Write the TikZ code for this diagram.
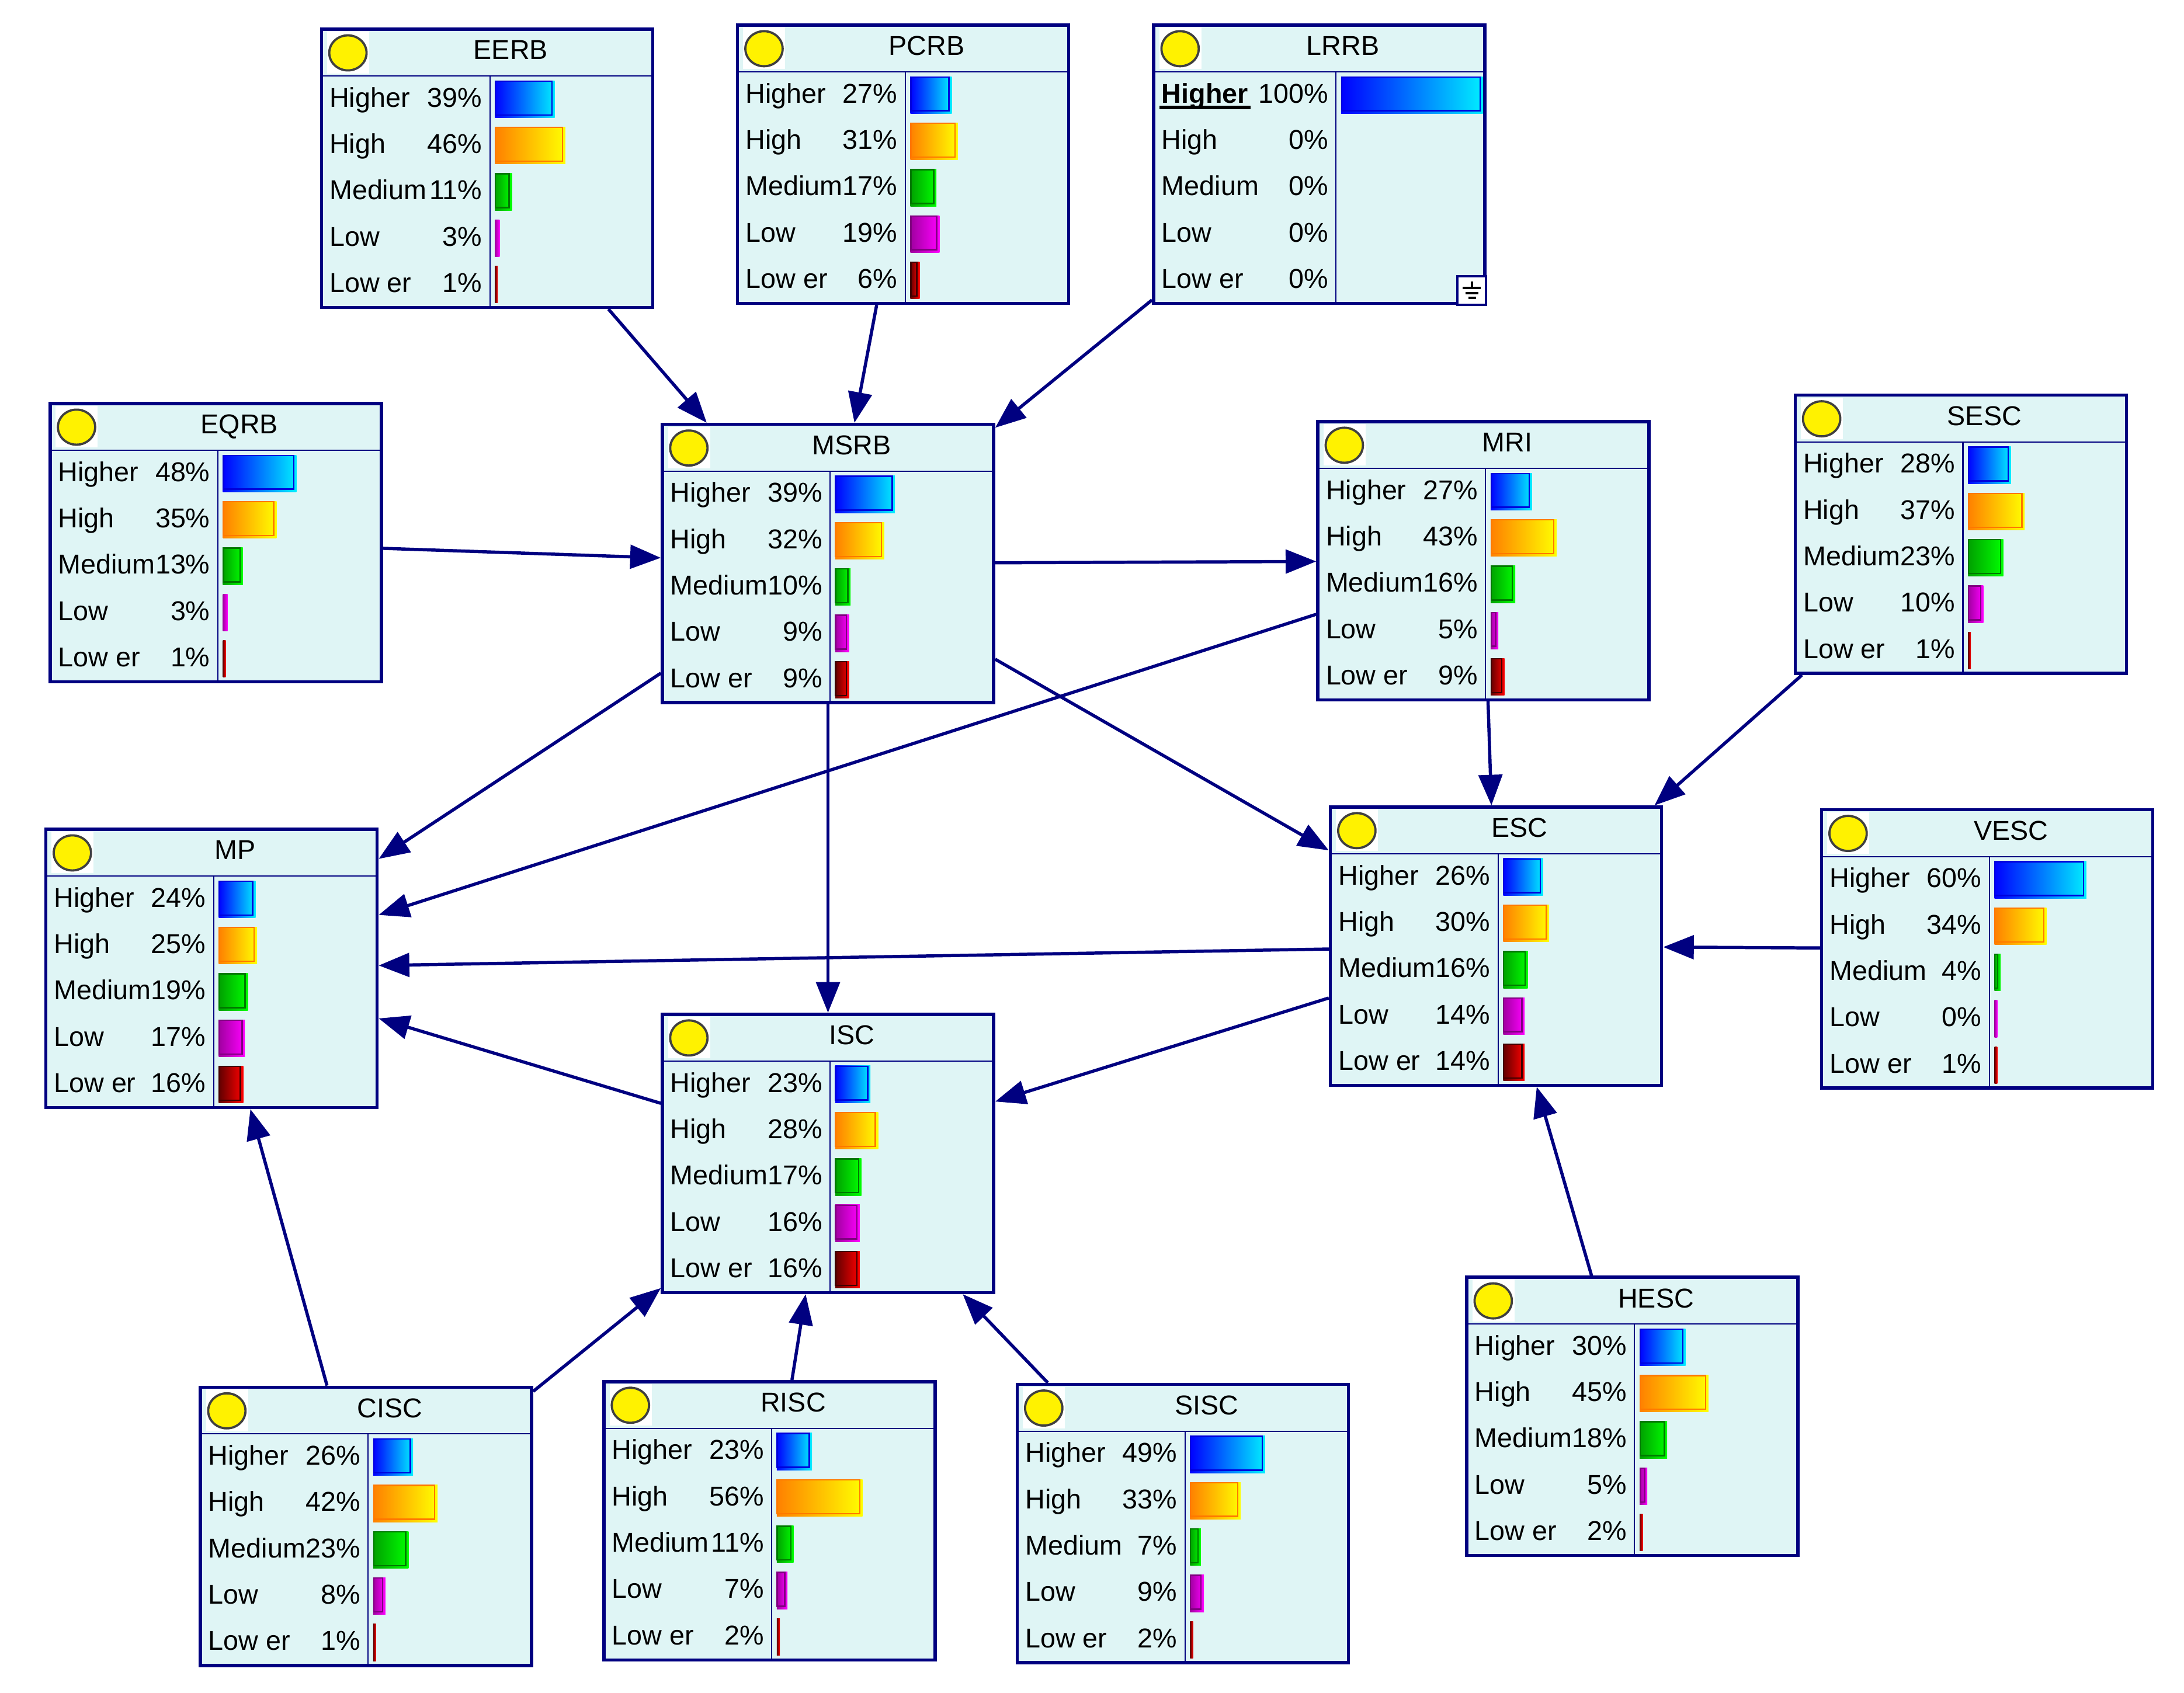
\documentclass[tikz,border=0pt]{standalone}
\usepackage{fontspec}
\setmainfont{Liberation Sans}
\usetikzlibrary{arrows.meta}

\definecolor{navy}{RGB}{0,0,128}
\definecolor{boxfill}{RGB}{223,245,245}
\definecolor{bar1L}{RGB}{0,0,255}   \definecolor{bar1R}{RGB}{0,238,255} \definecolor{bar1O}{RGB}{0,0,220}
\definecolor{bar2L}{RGB}{255,128,0} \definecolor{bar2R}{RGB}{255,255,0} \definecolor{bar2O}{RGB}{255,120,0}
\definecolor{bar3L}{RGB}{0,160,0}   \definecolor{bar3R}{RGB}{0,255,0}   \definecolor{bar3O}{RGB}{0,120,0}
\definecolor{bar4L}{RGB}{160,0,160} \definecolor{bar4R}{RGB}{255,0,255} \definecolor{bar4O}{RGB}{128,0,128}
\definecolor{bar5L}{RGB}{96,0,0}    \definecolor{bar5R}{RGB}{255,0,0}   \definecolor{bar5O}{RGB}{64,0,0}

\newcommand\evidline[1]{\setbox0\hbox{#1}\rlap{\kern-0.8pt\vrule height -1.1pt depth 2.25pt width \dimexpr\wd0+1.6pt\relax}#1}
\newcommand\statelab[2]{\ifcase#1\or\ifnum#2=1 \evidline{\textbf{Higher}}\else Higher\fi\or High\or Medium\or Low\or Low er\fi}

\tikzset{
  netbox/.style = {draw = navy, line width = 1.15pt, fill = boxfill, minimum width = 119pt, minimum height = 100pt},
  sepline/.style = {navy, line width = 0.45pt},
  lamp/.style = {fill = yellow, draw = black!75, line width = 0.8pt},
  link/.style = {navy, line width = 1.15pt, -{Triangle[length = 11pt, width = 8.5pt]}}
}

\begin{document}
\begin{tikzpicture}[x = 0.5pt, y = -0.5pt, inner sep = 0pt, font = \fontsize{9.8}{11}\selectfont]
\useasboundingbox (0,0) rectangle (1569.4,1216.8);

\foreach \nm/\x/\y/\dv/\ev/\pl in {
   EERB/231/21/121/0/{39,46,11,3,1},    PCRB/530/18/120.5/0/{27,31,17,19,6},  LRRB/829/18/131/1/{100,0,0,0,0},
   EQRB/36/290/120.5/0/{48,35,13,3,1},  MSRB/476/305/120.5/0/{39,32,10,9,9},  MRI/947/303/120.5/0/{27,43,16,5,9},
   SESC/1290/284/120.5/0/{28,37,23,10,1}, MP/33/596/120.5/0/{24,25,19,17,16}, ESC/956/580/120.5/0/{26,30,16,14,14},
   VESC/1309/582/120.5/0/{60,34,4,0,1}, ISC/476/729/120.5/0/{23,28,17,16,16}, HESC/1054/918/120.5/0/{30,45,18,5,2},
   CISC/144/997/120.5/0/{26,42,23,8,1}, RISC/434/993/120.5/0/{23,56,11,7,2},  SISC/731/995/120.5/0/{49,33,7,9,2}}{
   \node[netbox] (\nm) at (\x+119, \y+100) {};
   \draw[sepline] (\x+1, \y+33.6) -- (\x+237, \y+33.6) (\x+\dv, \y+33.6) -- (\x+\dv, \y+199);
   \fill[white] (\x+4, \y+1.7) rectangle (\x+34.3, \y+31.7);
   \draw[lamp] (\x+19, \y+17) ellipse [x radius = 6.7pt, y radius = 6.3pt];
   \node[anchor = base] (\nm-t) at (\x+136, \y+21.8) {\nm};
   \foreach \p [count = \i] in \pl {
      \pgfmathsetmacro\ry{\y+33.6+(\i-1)*33.3}
      \pgfmathsetmacro\w{min(238-1.5-\dv-3.7, max(2, 1.1*\p))}
      \ifnum\ev=1 \ifnum\p=0 \def\w{0}\fi\fi
      \node[anchor = base west] (\nm-l\i) at (\x+5.4, \ry+22.3) {\statelab{\i}{\ev}};
      \node[anchor = base east] (\nm-p\i) at (\x+\dv-5.2, \ry+22.3) {\p\%};
      \ifdim\w pt>0pt
         \shade[left color = bar\i L, right color = bar\i R] (\x+\dv+3.7, \ry+3.4) rectangle ++(\w, 26.6);
         \ifdim\w pt>4pt
            \draw[bar\i O, line width = 0.5pt] (\x+\dv+4, \ry+3.7) rectangle (\x+\dv+1.7+\w, \ry+28);
         \fi
      \fi
   }
}

% evidence mark on LRRB
\node[draw = navy, line width = 0.85pt, fill = white, minimum size = 10.3pt] (gnd) at (1057.7, 208.7) {};
\draw[line width = 0.85pt] (1057.8, 202.2) -- (1057.8, 206.8)
   (1051.2, 206.8) -- (1064.2, 206.8) (1053.2, 210.6) -- (1062.3, 210.6) (1055.1, 214.2) -- (1060.6, 214.2);

\foreach \a/\b in {EERB/MSRB, PCRB/MSRB, LRRB/MSRB, EQRB/MSRB, MSRB/MRI, MSRB/MP, MSRB/ISC, MSRB/ESC,
   MRI/MP, MRI/ESC, SESC/ESC, VESC/ESC, ESC/MP, ESC/ISC, ISC/MP, CISC/MP, CISC/ISC, RISC/ISC,
   SISC/ISC, HESC/ESC}
   \draw[link] (\a) -- (\b);
\end{tikzpicture}
\end{document}
